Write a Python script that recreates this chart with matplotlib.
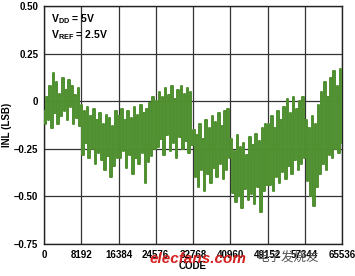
import numpy as np
import matplotlib
matplotlib.use("Agg")
import matplotlib.pyplot as plt

plt.rcParams['font.family'] = ['Liberation Sans', 'DejaVu Sans']
plt.rcParams['mathtext.fontset'] = 'custom'
plt.rcParams['mathtext.bf'] = 'Liberation Sans:bold'
plt.rcParams['mathtext.rm'] = 'Liberation Sans:bold'

seg1 = [-0.05, -0.12, 0.02, -0.10, 0.08, -0.14, 0.15, -0.06, 0.10, -0.12, 0.04, -0.08,
        0.12, -0.05, 0.06, -0.10, 0.11, -0.03, 0.08, -0.12, 0.03, -0.09, 0.07, -0.13]
seg2 = [-0.02, -0.28, -0.05, -0.22, -0.03, -0.30, -0.08, -0.25, -0.04, -0.33, -0.10, -0.27,
        -0.06, -0.31, -0.12, -0.36, -0.07, -0.29, -0.09, -0.40, -0.13, -0.34, -0.05, -0.30]
seg3 = [-0.08, -0.30, -0.04, -0.26, -0.10, -0.35, -0.05, -0.28, -0.09, -0.38, -0.03, -0.30,
        -0.07, -0.33, -0.02, -0.27, -0.06, -0.43, -0.04, -0.32, -0.01, -0.29, 0.02, -0.25]
seg4 = [0.00, -0.24, 0.05, -0.20, 0.02, -0.28, 0.07, -0.18, 0.03, -0.26, 0.08, -0.22,
        0.01, -0.30, 0.06, -0.19, 0.08, -0.25, 0.04, -0.21, 0.07, -0.27, 0.05, -0.23]
seg5 = [-0.15, -0.40, -0.18, -0.45, -0.12, -0.36, -0.20, -0.47, -0.10, -0.38, -0.14, -0.43,
        -0.08, -0.35, -0.11, -0.40, -0.06, -0.33, -0.13, -0.41, -0.05, -0.36, -0.04, -0.30]
seg6 = [-0.20, -0.48, -0.26, -0.53, -0.18, -0.50, -0.24, -0.56, -0.22, -0.46, -0.28, -0.52,
        -0.19, -0.49, -0.23, -0.54, -0.17, -0.45, -0.21, -0.58, -0.14, -0.47, -0.12, -0.44]
seg7 = [-0.12, -0.44, -0.08, -0.47, -0.14, -0.40, -0.05, -0.43, -0.10, -0.37, -0.03, -0.41,
        0.01, -0.34, -0.06, -0.38, 0.02, -0.31, -0.04, -0.36, 0.00, -0.33, 0.02, -0.30]
seg8 = [-0.10, -0.42, -0.14, -0.50, -0.08, -0.55, -0.12, -0.45, -0.02, -0.38, 0.05, -0.33,
        0.10, -0.36, 0.02, -0.28, 0.12, -0.30, 0.16, -0.25, 0.08, -0.27, 0.17, -0.22]
inl = seg1 + seg2 + seg3 + seg4 + seg5 + seg6 + seg7 + seg8
codes = np.linspace(0, 65535, len(inl))

xticks = [0, 8192, 16384, 24576, 32768, 40960, 49152, 57344, 65536]
yticks = [0.5, 0.25, 0, -0.25, -0.5, -0.75]
ytick_labels = ["0.50", "0.25", "0", "\u20130.25", "\u20130.50", "\u20130.75"]

fig = plt.figure(figsize=(3.55, 2.76), dpi=100)
ax = fig.add_axes([44/355, 1-244/276, (342-44)/355, (244-6)/276])
ax.plot(codes, inl, color='#4f8f2f', lw=1.4, drawstyle='steps-mid', zorder=3)
ax.set_xlim(0, 65536)
ax.set_ylim(-0.75, 0.5)
ax.set_xticks(xticks)
ax.set_xticklabels([str(v) for v in xticks], fontsize=7, fontweight='bold')
ax.set_yticks(yticks)
ax.set_yticklabels(ytick_labels, fontsize=7, fontweight='bold')
ax.tick_params(length=0, pad=4)
ax.grid(True, color='#333333', lw=0.9)
ax.set_axisbelow(True)
for s in ax.spines.values():
    s.set_color('#222222')
    s.set_linewidth(1.0)
ax.set_ylabel("INL (LSB)", fontsize=7, fontweight='bold')
ax.yaxis.set_label_coords(-32/298, 0.5)
ax.set_xlabel("CODE", fontsize=7, fontweight='bold', labelpad=1)
ax.text(0.025, 0.975, r"V$_{\mathbf{DD}}$ = 5V", transform=ax.transAxes,
        fontsize=7.5, fontweight='bold', va='top', ha='left')
ax.text(0.025, 0.905, r"V$_{\mathbf{REF}}$ = 2.5V", transform=ax.transAxes,
        fontsize=7.5, fontweight='bold', va='top', ha='left')

# watermark
fig.text(150/355, 1-259/276, "elecfans.com", color='#d42020', fontsize=11,
         fontweight='bold', style='italic', va='center', ha='left')
fig.text(256/355, 1-257/276, "电子发烧友", color='#555555', fontsize=9,
         family=['Noto Sans CJK SC', 'DejaVu Sans'], va='center', ha='left')

fig.savefig("out.png", dpi=100)
